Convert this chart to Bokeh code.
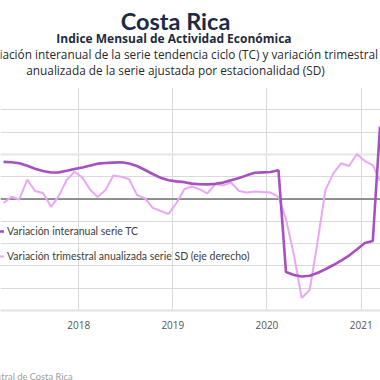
import pandas as pd
from bokeh.plotting import figure
from bokeh.layouts import column
from bokeh.models import (Range1d, FixedTicker, DatetimeTickFormatter, Span, Label,
                          Legend, LegendItem, ColumnDataSource)
from bokeh.embed import file_html
from bokeh.resources import INLINE

# ---- data ----
first_month = "2017-03-01"
last_month = "2021-03-01"
# Variación interanual serie TC (eje izquierdo, %)
tc = [3.33, 3.29, 3.21, 2.98, 2.72, 2.51, 2.37, 2.39, 2.53, 2.69,
      2.83, 3.00, 3.17, 3.23, 3.26, 3.29, 3.18, 2.96, 2.60, 2.24,
      1.90, 1.68, 1.58, 1.51, 1.38, 1.32, 1.31, 1.36, 1.47, 1.69,
      1.88, 2.12, 2.35, 2.39, 2.42, 2.57, -6.54, -6.82, -6.95, -6.89,
      -6.64, -6.30, -5.92, -5.52, -5.07, -4.53, -3.95, -3.77, 6.50]
# Variación trimestral anualizada serie SD (eje derecho, %)
sd = [-1.8, 1.0, -0.2, 8.7, 3.6, 2.7, -3.5, 1.3, 8.5, 12.2,
      9.6, 4.0, 0.9, 4.0, 10.5, 10.0, 9.0, 1.8, 0.3, -4.0,
      -5.4, -6.7, -1.8, 4.5, 5.6, 4.3, 2.5, 6.7, 6.1, 7.4,
      3.6, 2.9, 3.4, 3.1, 2.9, 1.0, -9.0, -25.1, -44.4, -40.8,
      -19.7, 4.0, 11.5, 16.0, 14.8, 20.2, 17.0, 15.2, 8.1]
year_ticks = ["2018-01-01", "2019-01-01", "2020-01-01", "2021-01-01"]
left_ticks = [-10, -8, -6, -4, -2, 0, 2, 4, 6, 8, 10]

title = "Costa Rica"
subtitle = "Indice Mensual de  Actividad Económica"
line3 = "Variación interanual de la serie tendencia ciclo (TC) y variación trimestral"
line4 = "anualizada de la serie ajustada por estacionalidad (SD)"
label_tc = "Variación interanual serie TC"
label_sd = "Variación trimestral anualizada serie SD (eje derecho)"
source_txt = "Fuente: Banco Central de Costa Rica"

months = pd.date_range(first_month, last_month, freq="MS")
dates = months + pd.Timedelta(days=14)
src = ColumnDataSource(dict(x=dates, tc=tc, sd=sd))

FONT = "Lato"
FONT2 = "Open Sans"
W = 380
H_HEAD, H_MAIN, H_FOOT = 87, 250, 43
BOTTOM = 27


def blank(h):
    f = figure(width=W, height=h, output_backend="svg", toolbar_location=None,
               x_range=Range1d(0, W), y_range=Range1d(h, 0),
               x_axis_location=None, y_axis_location=None,
               min_border=0, min_border_left=0, min_border_right=0,
               min_border_top=0, min_border_bottom=0)
    f.grid.visible = False
    f.outline_line_color = None
    return f


def lab(f, text, x, ybase, size, color, bold=False, align="center", font=FONT):
    f.add_layout(Label(x=x, y=ybase, text=text, text_font=font, text_font_size=size,
                       text_font_style="bold" if bold else "normal",
                       text_color=color, text_align=align, text_baseline="alphabetic"))


# ---- header ----
head = blank(H_HEAD)
lab(head, title, 175, 20, "23.5px", "#1b2a47", bold=True)
lab(head, subtitle, 175, 38.3, "12px", "#1f2b3d", bold=True, font=FONT2)
lab(head, line3, 179, 53.3, "11.8px", "#2a2a2a", font=FONT2)
lab(head, line4, 175, 69, "11.8px", "#2a2a2a", font=FONT2)

# ---- main chart ----
p = figure(width=W, height=H_MAIN, output_backend="svg", toolbar_location=None,
           x_axis_type="datetime", y_axis_location=None,
           x_range=Range1d(pd.Timestamp("2017-03-03 02:00"), pd.Timestamp("2021-03-16 22:00")),
           y_range=Range1d(-10, 10),
           min_border_left=0, min_border_right=0,
           min_border_top=0, min_border_bottom=BOTTOM)
p.extra_y_ranges = {"sd": Range1d(-50, 50)}
p.outline_line_color = None

tick_ms = [pd.Timestamp(t).value // 10**6 for t in year_ticks]
p.xaxis.ticker = FixedTicker(ticks=tick_ms)
p.xaxis.formatter = DatetimeTickFormatter(years="%Y", months="%Y", days="%Y")
p.xaxis.axis_line_color = "#e2e2e2"
p.xaxis.axis_line_width = 2
p.xaxis.major_tick_line_color = None
p.xaxis.minor_tick_line_color = None
p.xaxis.major_tick_out = 0
p.xaxis.major_label_standoff = 10
p.xaxis.major_label_text_font = FONT2
p.xaxis.major_label_text_font_size = "10px"
p.xaxis.major_label_text_color = "#555555"

p.xgrid.ticker = FixedTicker(ticks=tick_ms)
p.xgrid.grid_line_color = "#dadada"
p.ygrid.axis = None
p.ygrid.ticker = FixedTicker(ticks=left_ticks)
p.ygrid.grid_line_color = "#dadada"

p.add_layout(Span(location=4, dimension="width", line_color="#e6e6e6",
                  line_width=2, level="underlay"))
p.add_layout(Span(location=0, dimension="width", line_color="#707070",
                  line_width=1.5, level="underlay"))

r_sd = p.line("x", "sd", source=src, y_range_name="sd", line_color="#eaa6f7", line_width=2)
r_tc = p.line("x", "tc", source=src, line_color="#a650c2", line_width=2.6)

legend = Legend(items=[LegendItem(label=label_tc, renderers=[r_tc]),
                       LegendItem(label=label_sd, renderers=[r_sd])],
                location=(-6, 44), padding=0, margin=0, spacing=5,
                glyph_width=10, glyph_height=20, label_height=20, label_standoff=3,
                background_fill_alpha=0, border_line_alpha=0,
                label_text_font=FONT, label_text_font_size="10.5px",
                label_text_color="#404040")
p.add_layout(legend)

# ---- footer ----
foot = blank(H_FOOT)
lab(foot, source_txt, 72, 39, "9.3px", "#a0a0a0", align="right")

layout = column(head, p, foot, spacing=0)
open("out.html", "w").write(file_html(layout, INLINE))
